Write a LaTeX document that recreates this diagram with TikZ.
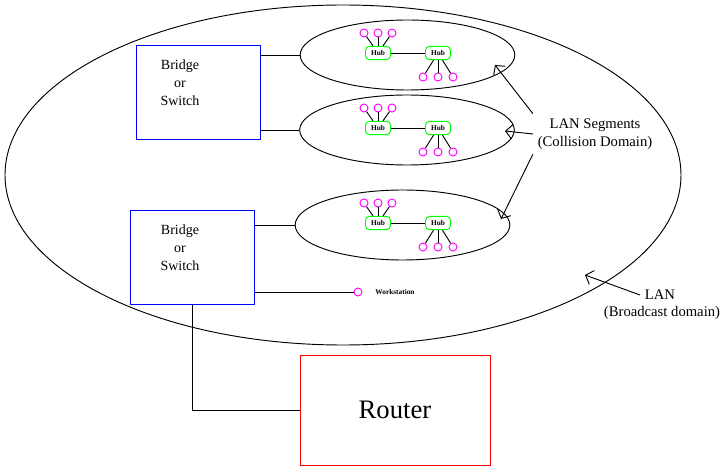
\documentclass[tikz,border=0pt]{standalone}
\usepackage{fontspec}
\setmainfont{Liberation Serif}
\usetikzlibrary{arrows.meta, shapes.geometric, calc}

\definecolor{stnpink}{RGB}{255,0,255}
\definecolor{hubgreen}{RGB}{0,255,0}

\begin{document}
\begin{tikzpicture}[
    x=0.75pt, y=-0.75pt,
    line width=0.7pt,
    >={Straight Barb[length=5pt, width=11pt]},
    lan/.style={ellipse, draw=black, minimum width=507pt, minimum height=255pt, inner sep=0pt},
    segment/.style={ellipse, draw=black, minimum width=161pt, minimum height=52.5pt, inner sep=0pt},
    bridgebox/.style={rectangle, draw=blue, minimum width=93pt, minimum height=71pt, inner sep=0pt},
    routerbox/.style={rectangle, draw=red, minimum width=142.5pt, minimum height=82.5pt, font=\fontsize{20}{24}\selectfont},
    hub/.style={rectangle, rounded corners=3pt, draw=hubgreen, minimum width=18.75pt, minimum height=10pt, inner sep=0pt, font=\fontsize{5.5}{6}\selectfont\bfseries},
    station/.style={circle, draw=stnpink, minimum size=6pt, inner sep=0pt},
    txt/.style={align=center, font=\fontsize{10.5}{13.5}\selectfont},
    tinytxt/.style={font=\fontsize{5.5}{6}\selectfont\bfseries},
    pointer/.style={->}
]
\useasboundingbox (0,0) rectangle (726,474);

% broadcast domain
\node[lan] (lan) at (343,175) {};

% bridges / switches
\node[bridgebox] (bridge1) at (198,92.5) {};
\node[txt] (bridge1txt) at (180,83) {Bridge\\or\\Switch};
\node[bridgebox] (bridge2) at (192.5,257.5) {};
\node[txt] (bridge2txt) at (180,248) {Bridge\\or\\Switch};

% router
\node[routerbox] (router) at (395,410) {Router};

% collision domains with their hubs
\foreach \s/\ex/\ey in {1/407.5/55, 2/407/130, 3/402.5/225} {
  \node[segment] (seg\s) at (\ex,\ey) {};
  \node[hub] (hubA\s) at (378,{\ey-2}) {Hub};
  \node[hub] (hubB\s) at (438,{\ey-2}) {Hub};
  \node[station] (topA\s) at (364,{\ey-22}) {};
  \node[station] (topB\s) at (378,{\ey-22}) {};
  \node[station] (topC\s) at (392,{\ey-22}) {};
  \node[station] (botA\s) at (423,{\ey+22}) {};
  \node[station] (botB\s) at (438,{\ey+22}) {};
  \node[station] (botC\s) at (453,{\ey+22}) {};
  \draw (hubA\s) -- (hubB\s);
  \draw (topA\s) -- (hubA\s);
  \draw (topB\s) -- (hubA\s);
  \draw (topC\s) -- (hubA\s);
  \draw (hubB\s) -- (botA\s);
  \draw (hubB\s) -- (botB\s);
  \draw (hubB\s) -- (botC\s);
}

% workstation
\node[station] (ws) at (358,292) {};
\node[tinytxt] (wstxt) at (395,292) {Workstation};

% links
\draw (seg1.west) -- (seg1.west -| bridge1.east);
\draw (seg2.west) -- (seg2.west -| bridge1.east);
\draw (seg3.west) -- (seg3.west -| bridge2.east);
\draw (ws.west) -- (ws.west -| bridge2.east);
\draw (bridge2.south) |- (router.west);

% annotations
\node[txt, font=\fontsize{11}{13.5}\selectfont] (segtxt) at (595,134) {LAN Segments\\(Collision Domain)};
\node[txt, font=\fontsize{11}{13.5}\selectfont] (lanname) at (660,295) {LAN};
\node[txt, font=\fontsize{11}{13.5}\selectfont] (landesc) at (662,313) {(Broadcast domain)};

\coordinate (tip1) at (495,65);
\coordinate (tip2) at (505,131);
\coordinate (tip3) at (501,219);
\coordinate (tip4) at (585,275);

\draw[pointer] (segtxt.north west) -- (tip1);
\draw[pointer] (segtxt.west) -- (tip2);
\draw[pointer] (segtxt.south west) -- (tip3);
\draw[pointer] (lanname.west) -- (tip4);
\end{tikzpicture}
\end{document}
